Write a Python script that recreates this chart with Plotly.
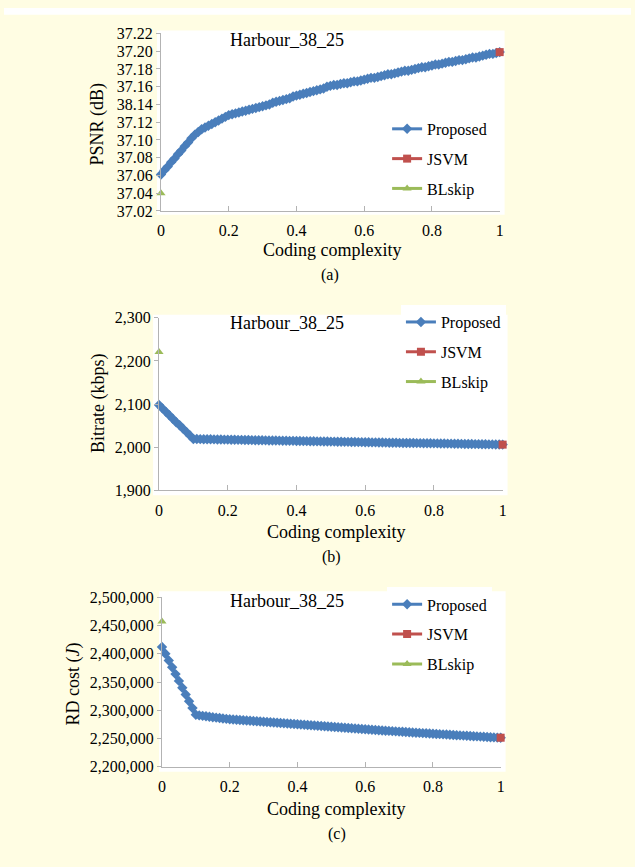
import plotly.graph_objects as go

# ---------------- data ----------------
complexity = [0.00, 0.01, 0.02, 0.03, 0.04, 0.05, 0.06, 0.07, 0.08, 0.09,
              0.10, 0.11, 0.12, 0.13, 0.14, 0.15, 0.16, 0.17, 0.18, 0.19,
              0.20, 0.21, 0.22, 0.23, 0.24, 0.25, 0.26, 0.27, 0.28, 0.29,
              0.30, 0.31, 0.32, 0.33, 0.34, 0.35, 0.36, 0.37, 0.38, 0.39,
              0.40, 0.41, 0.42, 0.43, 0.44, 0.45, 0.46, 0.47, 0.48, 0.49,
              0.50, 0.51, 0.52, 0.53, 0.54, 0.55, 0.56, 0.57, 0.58, 0.59,
              0.60, 0.61, 0.62, 0.63, 0.64, 0.65, 0.66, 0.67, 0.68, 0.69,
              0.70, 0.71, 0.72, 0.73, 0.74, 0.75, 0.76, 0.77, 0.78, 0.79,
              0.80, 0.81, 0.82, 0.83, 0.84, 0.85, 0.86, 0.87, 0.88, 0.89,
              0.90, 0.91, 0.92, 0.93, 0.94, 0.95, 0.96, 0.97, 0.98, 0.99,
              1.00]

psnr_proposed = [37.061, 37.066, 37.070, 37.075, 37.079, 37.084, 37.088, 37.093, 37.097, 37.102,
                 37.106, 37.109, 37.112, 37.114, 37.116, 37.118, 37.120, 37.122, 37.124, 37.126,
                 37.128, 37.129, 37.130, 37.131, 37.132, 37.133, 37.134, 37.135, 37.136, 37.137,
                 37.138, 37.139, 37.140, 37.142, 37.143, 37.144, 37.145, 37.146, 37.147, 37.149,
                 37.150, 37.151, 37.152, 37.153, 37.154, 37.155, 37.156, 37.157, 37.158, 37.160,
                 37.161, 37.162, 37.162, 37.163, 37.164, 37.164, 37.165, 37.166, 37.166, 37.167,
                 37.168, 37.169, 37.170, 37.170, 37.171, 37.172, 37.173, 37.174, 37.174, 37.175,
                 37.176, 37.177, 37.178, 37.178, 37.179, 37.180, 37.181, 37.182, 37.182, 37.183,
                 37.184, 37.185, 37.185, 37.186, 37.187, 37.188, 37.188, 37.189, 37.190, 37.190,
                 37.191, 37.192, 37.193, 37.193, 37.194, 37.195, 37.196, 37.197, 37.197, 37.198,
                 37.199]

bitrate_proposed = [2098, 2090, 2082, 2074, 2066, 2058, 2051, 2043, 2035, 2027,
                    2019.0, 2018.9, 2018.7, 2018.6, 2018.4, 2018.3, 2018.1, 2018.0, 2017.8, 2017.7,
                    2017.5, 2017.4, 2017.2, 2017.1, 2016.9, 2016.8, 2016.6, 2016.5, 2016.3, 2016.2,
                    2016.0, 2015.9, 2015.7, 2015.6, 2015.4, 2015.3, 2015.1, 2015.0, 2014.8, 2014.7,
                    2014.5, 2014.4, 2014.2, 2014.1, 2013.9, 2013.8, 2013.6, 2013.5, 2013.3, 2013.2,
                    2013.0, 2012.9, 2012.7, 2012.6, 2012.4, 2012.3, 2012.1, 2012.0, 2011.8, 2011.7,
                    2011.5, 2011.4, 2011.2, 2011.1, 2010.9, 2010.8, 2010.6, 2010.5, 2010.3, 2010.2,
                    2010.0, 2009.9, 2009.8, 2009.7, 2009.6, 2009.5, 2009.4, 2009.3, 2009.2, 2009.1,
                    2009.0, 2008.8, 2008.7, 2008.5, 2008.4, 2008.2, 2008.1, 2007.9, 2007.8, 2007.6,
                    2007.5, 2007.4, 2007.2, 2007.1, 2006.9, 2006.8, 2006.6, 2006.5, 2006.3, 2006.2,
                    2006.0]

rdcost_proposed = [2412000, 2400000, 2388000, 2376000, 2364000, 2352000, 2340000, 2328000, 2316000, 2304000,
                   2292000, 2291000, 2290200, 2289400, 2288600, 2287800, 2287000, 2286300, 2285600, 2284900,
                   2284200, 2283750, 2283300, 2282850, 2282400, 2281950, 2281500, 2281050, 2280600, 2280150,
                   2279700, 2279250, 2278800, 2278350, 2277900, 2277450, 2277000, 2276550, 2276100, 2275650,
                   2275200, 2274760, 2274320, 2273880, 2273440, 2273000, 2272560, 2272120, 2271680, 2271240,
                   2270800, 2270360, 2269920, 2269480, 2269040, 2268600, 2268160, 2267720, 2267280, 2266840,
                   2266400, 2265990, 2265580, 2265170, 2264760, 2264350, 2263940, 2263530, 2263120, 2262710,
                   2262300, 2261920, 2261540, 2261160, 2260780, 2260400, 2260020, 2259640, 2259260, 2258880,
                   2258500, 2258140, 2257780, 2257420, 2257060, 2256700, 2256340, 2255980, 2255620, 2255260,
                   2254900, 2254540, 2254180, 2253820, 2253460, 2253100, 2252740, 2252380, 2252020, 2251660,
                   2251300]

jsvm_x = [1.0]
psnr_jsvm = [37.199]
bitrate_jsvm = [2006]
rdcost_jsvm = [2251500]

blskip_x = [0.0]
psnr_blskip = [37.040]
bitrate_blskip = [2221]
rdcost_blskip = [2457000]

x_tickvals = [0, 0.2, 0.4, 0.6, 0.8, 1]
x_ticktext = ["0", "0.2", "0.4", "0.6", "0.8", "1"]
psnr_tickvals = [37.02, 37.04, 37.06, 37.08, 37.10, 37.12, 37.14, 37.16, 37.18, 37.20, 37.22]
psnr_ticktext = ["37.02", "37.04", "37.06", "37.08", "37.10", "37.12", "38.14", "37.16", "37.18", "37.20", "37.22"]
bitrate_tickvals = [1900, 2000, 2100, 2200, 2300]
rdcost_tickvals = [2200000, 2250000, 2300000, 2350000, 2400000, 2450000, 2500000]

panel_title = "Harbour_38_25"
x_title = "Coding complexity"
y_titles = ["PSNR (dB)", "Bitrate (kbps)", "RD cost (<i>J</i>)"]
panel_labels = ["(a)", "(b)", "(c)"]

# ---------------- style ----------------
W, H = 635, 867
BG = "#FFFDE3"
BLUE = "#4A7EBB"
RED = "#C0504D"
GREEN = "#9BBB59"
AXIS = "#B3B3B3"
FONT = "Liberation Serif"


def px(xp):
    return xp / W


def py(yp):
    return 1 - yp / H


fig = go.Figure()

panels = [
    dict(prop=psnr_proposed, jsvm=psnr_jsvm, bl=psnr_blskip),
    dict(prop=bitrate_proposed, jsvm=bitrate_jsvm, bl=bitrate_blskip),
    dict(prop=rdcost_proposed, jsvm=rdcost_jsvm, bl=rdcost_blskip),
]

for i, p in enumerate(panels):
    n = "" if i == 0 else str(i + 1)
    xa, ya = "x" + n, "y" + n
    lg = "legend" + n
    fig.add_trace(go.Scatter(x=complexity, y=p["prop"], name="Proposed", mode="lines+markers",
                             line=dict(color=BLUE, width=3),
                             marker=dict(symbol="diamond", size=8, color=BLUE),
                             xaxis=xa, yaxis=ya, legend=lg, legendgroup=f"p{i}",
                             cliponaxis=False))
    fig.add_trace(go.Scatter(x=jsvm_x, y=p["jsvm"], name="JSVM", mode="lines+markers",
                             line=dict(color=RED, width=3),
                             marker=dict(symbol="square", size=8, color=RED),
                             xaxis=xa, yaxis=ya, legend=lg, legendgroup=f"j{i}",
                             cliponaxis=False))
    fig.add_trace(go.Scatter(x=blskip_x, y=p["bl"], name="BLskip", mode="lines+markers",
                             line=dict(color=GREEN, width=3),
                             marker=dict(symbol="triangle-up", size=8, color=GREEN),
                             xaxis=xa, yaxis=ya, legend=lg, legendgroup=f"b{i}",
                             cliponaxis=False))

# axis geometry (pixels)
geo = [
    dict(x0=159, x1=502, ytop=26, ybot=207, rng=[37.02, 37.22], tv=psnr_tickvals, tt=psnr_ticktext, fmt=None),
    dict(x0=157, x1=505, ytop=316, ybot=492, rng=[1900, 2300], tv=bitrate_tickvals, tt=None, fmt=","),
    dict(x0=160, x1=503, ytop=601, ybot=774, rng=[2200000, 2500000], tv=rdcost_tickvals, tt=None, fmt=","),
]

layout = dict(
    width=W, height=H, margin=dict(l=0, r=0, t=0, b=0),
    paper_bgcolor=BG, plot_bgcolor="white",
    font=dict(family=FONT, size=16, color="black"),
    showlegend=True,
)

for i, g in enumerate(geo):
    n = "" if i == 0 else str(i + 1)
    layout["xaxis" + n] = dict(
        domain=[px(g["x0"]), px(g["x1"])], range=[0, 1], anchor="y" + n,
        tickvals=x_tickvals, ticktext=x_ticktext,
        showgrid=False, zeroline=False, showline=True, linecolor=AXIS, linewidth=1,
        ticks="inside", ticklen=5, tickcolor=AXIS, ticklabelstandoff=5,
        tickfont=dict(family=FONT, size=16, color="black"),
    )
    ya = dict(
        domain=[py(g["ybot"]), py(g["ytop"])], range=g["rng"], anchor="x" + n,
        tickvals=g["tv"],
        showgrid=False, zeroline=False, showline=True, linecolor=AXIS, linewidth=1,
        ticks="outside", ticklen=4, tickcolor=AXIS,
        tickfont=dict(family=FONT, size=16, color="black"),
    )
    if g["tt"] is not None:
        ya["ticktext"] = g["tt"]
    if g["fmt"]:
        ya["tickformat"] = g["fmt"]
    layout["yaxis" + n] = ya

legend_pos = [(388, 106), (402, 303), (388, 591)]
for i, (lx, ly) in enumerate(legend_pos):
    n = "" if i == 0 else str(i + 1)
    layout["legend" + n] = dict(
        x=px(lx), y=py(ly), xanchor="left", yanchor="top",
        bgcolor="white", borderwidth=0, tracegroupgap=6,
        font=dict(family=FONT, size=16, color="black"),
        itemclick=False, itemdoubleclick=False,
    )

fig.update_layout(**layout)

# white chart areas and top strip
shapes = [
    dict(type="rect", xref="paper", yref="paper", x0=0, x1=1, y0=py(7), y1=1,
         fillcolor="white", line=dict(width=0), layer="below"),
    dict(type="rect", xref="paper", yref="paper", x0=px(155), x1=px(507), y0=py(211), y1=py(23),
         fillcolor="white", line=dict(width=0), layer="below"),
    dict(type="rect", xref="paper", yref="paper", x0=px(151), x1=px(510), y0=py(497), y1=py(313),
         fillcolor="white", line=dict(width=0), layer="below"),
    dict(type="rect", xref="paper", yref="paper", x0=px(157), x1=px(508), y0=py(779), y1=py(595),
         fillcolor="white", line=dict(width=0), layer="below"),
]
fig.update_layout(shapes=shapes)

annos = []
title_pos = [(287, 33), (287, 321), (287, 605)]
xt_pos = [(333, 247), (337, 534), (337, 817)]
lab_pos = [(330, 272), (332, 560), (337, 843)]
yt_pos = [(95, 118), (95, 403), (70, 690)]
for i in range(3):
    annos.append(dict(text=panel_title, x=px(title_pos[i][0]), y=py(title_pos[i][1]),
                      xref="paper", yref="paper", showarrow=False,
                      font=dict(family=FONT, size=18), xanchor="center", yanchor="middle"))
    annos.append(dict(text=x_title, x=px(xt_pos[i][0]), y=py(xt_pos[i][1]),
                      xref="paper", yref="paper", showarrow=False,
                      font=dict(family=FONT, size=18), xanchor="center", yanchor="middle"))
    annos.append(dict(text=panel_labels[i], x=px(lab_pos[i][0]), y=py(lab_pos[i][1]),
                      xref="paper", yref="paper", showarrow=False,
                      font=dict(family=FONT, size=16), xanchor="center", yanchor="middle"))
    annos.append(dict(text=y_titles[i], x=px(yt_pos[i][0]), y=py(yt_pos[i][1]),
                      xref="paper", yref="paper", showarrow=False, textangle=-90,
                      font=dict(family=FONT, size=18), xanchor="center", yanchor="middle"))
fig.update_layout(annotations=annos)

fig.write_html("out.html")
